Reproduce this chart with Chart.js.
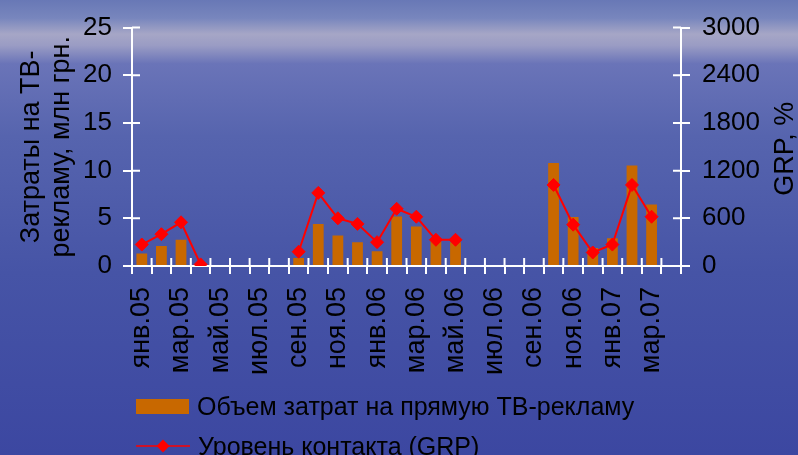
<!DOCTYPE html>
<html>
<head>
<meta charset="utf-8">
<script src="https://cdn.jsdelivr.net/npm/chart.js@4"></script>
<style>
  html, body { margin: 0; padding: 0; }
  body {
    width: 798px; height: 455px; overflow: hidden; position: relative;
    font-family: "Liberation Sans", Arial, sans-serif;
    background: linear-gradient(to bottom, #6878b6 0%, #7886bd 4%, #a6a6c6 7.5%, #9a9cc4 10%, #6a74b8 14%, #5664ae 30%, #4654a6 60%, #3c47a1 100%);
  }
  #wrap { position: absolute; left: 0; top: 0; width: 798px; height: 455px; }
  .legend { position: absolute; left: 136px; font-size: 25px; color: #000; line-height: 1; }
  .legend .row { display: flex; align-items: center; height: 30px; }
  .legend .box { width: 53px; height: 15px; background: #c86800; margin-right: 8px; }
  .legend svg { margin-right: 8px; }
</style>
</head>
<body>
<div id="wrap"><canvas id="grp-chart" width="798" height="455"></canvas></div>
<div class="legend" style="top:391px">
  <div class="row"><span class="box"></span>Объем затрат на прямую ТВ-рекламу</div>
  <div class="row" style="margin-top:10px"><svg width="54" height="16"><line x1="0" y1="8" x2="54" y2="8" stroke="#ff0000" stroke-width="1.5"/><polygon points="27,1.5 33.5,8 27,14.5 20.5,8" fill="#ff0000"/></svg>Уровень контакта (GRP)</div>
</div>
<script>
// months, Jan 2005 - Apr 2007
const months = ['янв.05','фев.05','мар.05','апр.05','май.05','июн.05','июл.05','авг.05',
  'сен.05','окт.05','ноя.05','дек.05','янв.06','фев.06','мар.06','апр.06','май.06','июн.06',
  'июл.06','авг.06','сен.06','окт.06','ноя.06','дек.06','янв.07','фев.07','мар.07','апр.07'];
// spend on direct TV ads, mln UAH
const spend = [1.3, 2.1, 2.75, null, null, null, null, null,
  0.85, 4.4, 3.2, 2.5, 1.55, 5.2, 4.15, 2.75, 2.5, null,
  null, null, null, 10.8, 5.15, 1.9, 2.9, 10.55, 6.45, null];
// GRP, %
const grp = [270, 400, 550, 20, null, null, null, null,
  180, 920, 600, 530, 300, 720, 620, 330, 330, null,
  null, null, null, 1020, 520, 170, 270, 1020, 620, null];
const leftTicks = [0, 5, 10, 15, 20, 25];
const rightTicks = [0, 600, 1200, 1800, 2400, 3000];

const family = '"Liberation Sans", Arial, sans-serif';

/* inner halves of the crossing tick marks + axis titles */
const extras = {
  id: 'extras',
  beforeDatasetsDraw(chart) {
    const { ctx, chartArea: a, scales } = chart;
    ctx.save();
    ctx.strokeStyle = '#ffffff';
    ctx.lineWidth = 2;
    ctx.beginPath();
    for (let i = 0; i <= months.length; i++) {
      const px = scales.x.getPixelForValue(i - 0.5);
      ctx.moveTo(px, a.bottom); ctx.lineTo(px, a.bottom - 8);
    }
    leftTicks.forEach(v => {
      const py = scales.y.getPixelForValue(v);
      ctx.moveTo(a.left, py); ctx.lineTo(a.left + 8, py);
    });
    rightTicks.forEach(v => {
      const py = scales.y1.getPixelForValue(v);
      ctx.moveTo(a.right, py); ctx.lineTo(a.right - 8, py);
    });
    ctx.stroke();
    ctx.restore();
  },
  afterDraw(chart) {
    const { ctx, chartArea: a } = chart;
    const cy = (a.top + a.bottom) / 2;
    ctx.save();
    ctx.fillStyle = '#000';
    ctx.font = '27px ' + family;
    ctx.textAlign = 'center';
    ctx.textBaseline = 'middle';
    [['Затраты на ТВ-', 32, cy], ['рекламу, млн грн.', 62, cy], ['GRP, %', 786, cy + 2]].forEach(([t, x, y]) => {
      ctx.save();
      ctx.translate(x, y);
      ctx.rotate(-Math.PI / 2);
      ctx.fillText(t, 0, 0);
      ctx.restore();
    });
    ctx.restore();
  }
};

new Chart(document.getElementById('grp-chart'), {
  type: 'bar',
  data: {
    labels: months,
    datasets: [{
      type: 'line',
      label: 'Уровень контакта (GRP)',
      data: grp,
      yAxisID: 'y1',
      borderColor: '#ff0000',
      backgroundColor: '#ff0000',
      borderWidth: 2,
      pointStyle: 'rectRot',
      pointRadius: 6.5,
      pointBorderWidth: 1,
      tension: 0,
      order: 0
    }, {
      label: 'Объем затрат на прямую ТВ-рекламу',
      data: spend,
      yAxisID: 'y',
      backgroundColor: '#c86800',
      categoryPercentage: 1,
      barPercentage: 0.55,
      order: 1
    }]
  },
  options: {
    responsive: false,
    animation: false,
    layout: { padding: { top: 23, left: 0, right: 0, bottom: 0 } },
    plugins: { legend: { display: false }, tooltip: { enabled: false } },
    scales: {
      x: {
        grid: { offset: true, drawOnChartArea: false, color: '#ffffff', lineWidth: 2, tickLength: 8 },
        border: { color: '#ffffff', width: 2 },
        ticks: {
          autoSkip: false, maxRotation: 90, minRotation: 90, padding: 13,
          color: '#000', font: { family: family, size: 27 },
          callback: (v, i) => (i % 2 === 0 ? months[i] : '')
        },
        afterFit: s => { s.height = 189; }
      },
      y: {
        position: 'left',
        min: 0, max: 25,
        grid: { drawOnChartArea: false, color: '#ffffff', lineWidth: 2, tickLength: 9 },
        border: { color: '#ffffff', width: 2 },
        ticks: { stepSize: 5, padding: 11, color: '#000', font: { family: family, size: 26 } },
        afterFit: s => { s.width = 132; }
      },
      y1: {
        position: 'right',
        min: 0, max: 3000,
        grid: { drawOnChartArea: false, color: '#ffffff', lineWidth: 2, tickLength: 9 },
        border: { color: '#ffffff', width: 2 },
        ticks: {
          stepSize: 600, padding: 12, color: '#000', font: { family: family, size: 26 },
          callback: v => String(v)
        },
        afterFit: s => { s.width = 117; }
      }
    }
  },
  plugins: [extras]
});
</script>
</body>
</html>
